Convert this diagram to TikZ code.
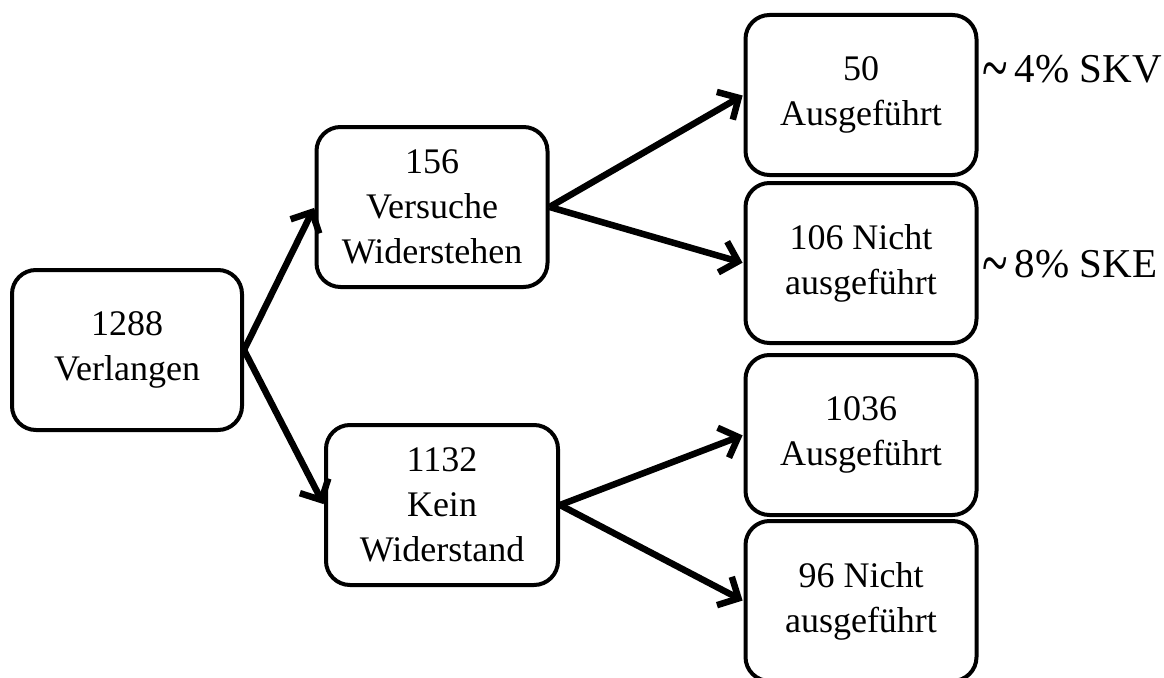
\documentclass[tikz,border=0pt]{standalone}
\usepackage{fontspec}
\setmainfont{Liberation Serif}
\usetikzlibrary{arrows.meta}
\tikzset{
  box/.style={draw, line width=4pt, rounded corners=24pt, minimum width=231pt, minimum height=160pt, inner sep=0pt, align=center, font=\fontsize{36}{45}\selectfont, fill=white},
  conn/.style={line width=6.5pt, -{Straight Barb[length=16pt,width=32pt,line width=6.5pt]}, shorten >=1pt},
  note/.style={inner sep=0pt, font=\fontsize{41}{48}\selectfont}
}
\newcommand{\apx}{\raisebox{-9pt}{\scalebox{1.15}[1.7]{\textasciitilde}}\hspace{7pt}}
\begin{document}
\begin{tikzpicture}[x=1pt,y=-1pt]
\useasboundingbox (0,0) rectangle (1164,677);
\node[box, minimum width=230pt] (v) at (127,350) {1288\\Verlangen};
\node[box] (w) at (432,207) {156\\Versuche\\Widerstehen};
\node[box, minimum width=232pt] (k) at (442,505) {1132\\Kein\\Widerstand};
\node[box] (a1) at (861,95) {50\\Ausgeführt};
\node[box] (n1) at (861,263) {106 Nicht\\ausgeführt};
\node[box] (a2) at (861,435) {1036\\Ausgeführt};
\node[box] (n2) at (861,601) {96 Nicht\\ausgeführt};
\node[note, anchor=base west] (skv) at (982,82) {\apx 4\% SKV};
\node[note, anchor=base west] (ske) at (982,277) {\apx 8\% SKE};
\draw[conn] (v.east) -- (w.west);
\draw[conn] (v.east) -- (k.west);
\draw[conn] (w.east) -- (a1.west);
\draw[conn] (w.east) -- (n1.west);
\draw[conn] (k.east) -- (a2.west);
\draw[conn] (k.east) -- (n2.west);
\end{tikzpicture}
\end{document}
